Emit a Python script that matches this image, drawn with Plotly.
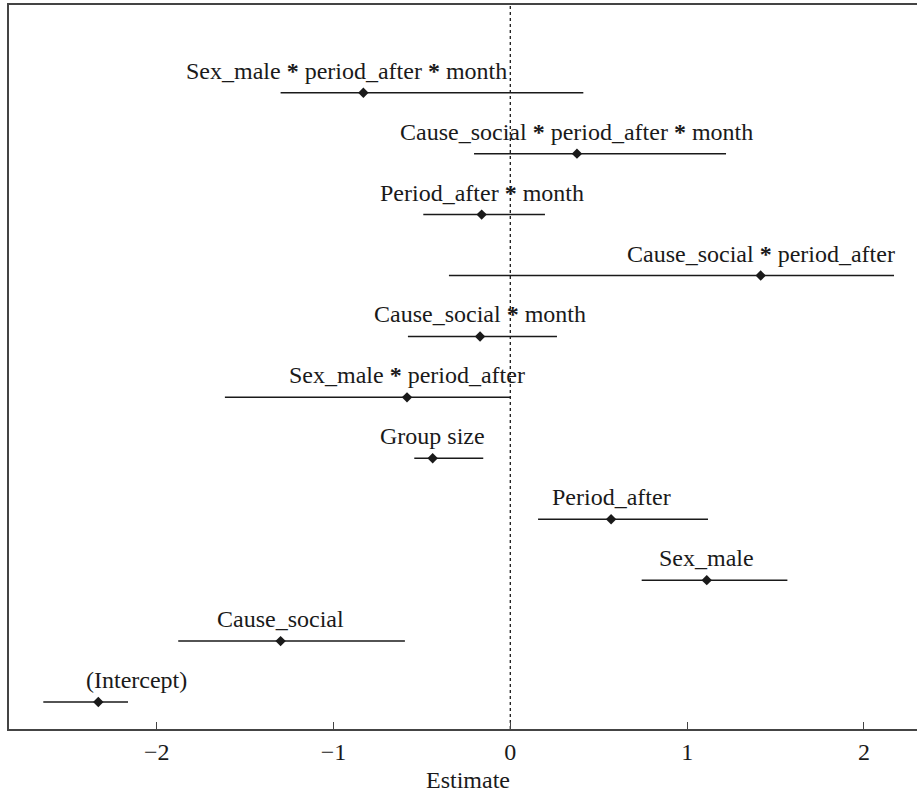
import plotly.graph_objects as go

# Model terms, top to bottom as listed on the chart
terms = [
    "Sex_male * period_after * month",
    "Cause_social * period_after * month",
    "Period_after * month",
    "Cause_social * period_after",
    "Cause_social * month",
    "Sex_male * period_after",
    "Group size",
    "Period_after",
    "Sex_male",
    "Cause_social",
    "(Intercept)",
]
estimate = [-0.831, 0.377, -0.162, 1.416, -0.171, -0.584, -0.439, 0.570, 1.111, -1.299, -2.330]
ci_low = [-1.299, -0.205, -0.492, -0.347, -0.579, -1.614, -0.543, 0.157, 0.743, -1.878, -2.641]
ci_high = [0.413, 1.220, 0.196, 2.170, 0.264, 0.000, -0.153, 1.118, 1.567, -0.596, -2.162]
x_ticks = [-2, -1, 0, 1, 2]

FONT = "Liberation Serif, Times New Roman, serif"
INK = "#1a1a1a"

n = len(terms)
rows = list(range(n, 0, -1))

fig = go.Figure()

# Confidence intervals
for lo, hi, r in zip(ci_low, ci_high, rows):
    fig.add_trace(go.Scatter(
        x=[lo, hi], y=[r, r], mode="lines",
        line=dict(color=INK, width=1.5), hoverinfo="skip", showlegend=False,
    ))

# Point estimates
fig.add_trace(go.Scatter(
    x=estimate, y=rows, mode="markers",
    marker=dict(symbol="diamond", size=8, color=INK),
    showlegend=False,
))

# Zero reference line
fig.add_shape(type="line", x0=0, x1=0, y0=0, y1=1, xref="x", yref="paper",
              line=dict(color=INK, width=1.3, dash="dot"), layer="below")

# Term labels above each estimate (a couple nudged sideways)
label_nudge = {"(Intercept)": 38, "Sex_male * period_after * month": -17}
for name, est, r in zip(terms, estimate, rows):
    fig.add_annotation(
        x=est, y=r, xref="x", yref="y",
        text=name.replace("*", "<b>*</b>"),
        showarrow=False, xanchor="center", yanchor="bottom",
        yshift=7, xshift=label_nudge.get(name, 0),
        font=dict(family=FONT, size=24, color=INK),
    )

# Axis title
fig.add_annotation(
    x=(468 - 9) / (917 - 9), y=0, xref="paper", yref="paper",
    yanchor="middle", yshift=-51, text="Estimate", showarrow=False,
    font=dict(family=FONT, size=24, color=INK),
)

fig.update_layout(
    width=917, height=794,
    margin=dict(l=9, r=0, t=5, b=65),
    paper_bgcolor="white", plot_bgcolor="white",
    font=dict(family=FONT, size=24, color=INK),
    xaxis=dict(
        range=[-2.835, 2.300], tickvals=x_ticks,
        ticks="inside", ticklen=7, tickwidth=1.3, tickcolor="#444",
        showline=True, linecolor="#444", linewidth=2, mirror=True,
        showgrid=False, zeroline=False,
        tickfont=dict(family=FONT, size=24, color=INK),
    ),
    yaxis=dict(
        range=[0.557, 12.44], showticklabels=False, ticks="",
        showline=True, linecolor="#444", linewidth=2, mirror=False,
        showgrid=False, zeroline=False,
    ),
)

fig.write_html("out.html")
